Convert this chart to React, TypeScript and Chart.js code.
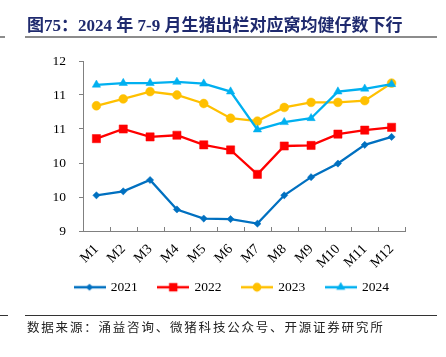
import React, { useEffect, useRef } from "react";
import { Chart, registerables } from "chart.js";

Chart.register(...registerables);

const categories = ["M1", "M2", "M3", "M4", "M5", "M6", "M7", "M8", "M9", "M10", "M11", "M12"];
const seriesNames = ["2021", "2022", "2023", "2024"];
const values2021 = [9.63, 9.7, 9.9, 9.38, 9.22, 9.21, 9.13, 9.63, 9.95, 10.19, 10.52, 10.66];
const values2022 = [10.63, 10.8, 10.66, 10.69, 10.52, 10.43, 10.0, 10.5, 10.51, 10.71, 10.78, 10.83];
const values2023 = [11.21, 11.33, 11.46, 11.4, 11.25, 10.99, 10.94, 11.18, 11.27, 11.27, 11.3, 11.61];
const values2024 = [11.58, 11.61, 11.61, 11.63, 11.6, 11.46, 10.79, 10.92, 10.99, 11.46, 11.51, 11.59];
const yTickValues = [9, 9.6, 10.2, 10.8, 11.4, 12];
const yTickLabels = ["9", "10", "10", "11", "11", "12"];

const colors = ["#0070C0", "#FF0000", "#FFC000", "#00B0F0"];
const pointStyles = ["rectRot", "rect", "circle", "triangle"];
const pointRadii = [3.6, 5.8, 4.4, 4.8];
const axisColor = "#808080";
const serif = "'Liberation Serif', 'Times New Roman', serif";

function makeLegendImage(color: string, style: string): HTMLCanvasElement {
  const c = document.createElement("canvas");
  c.width = 32;
  c.height = 14;
  const ctx = c.getContext("2d")!;
  const cy = 7;
  const cx = 16;
  ctx.strokeStyle = color;
  ctx.lineWidth = 2.5;
  ctx.beginPath();
  ctx.moveTo(0, cy);
  ctx.lineTo(32, cy);
  ctx.stroke();
  ctx.fillStyle = color;
  ctx.beginPath();
  if (style === "rectRot") {
    const r = 3.6;
    ctx.moveTo(cx, cy - r);
    ctx.lineTo(cx + r, cy);
    ctx.lineTo(cx, cy + r);
    ctx.lineTo(cx - r, cy);
    ctx.closePath();
  } else if (style === "rect") {
    ctx.rect(cx - 4.2, cy - 4.2, 8.4, 8.4);
  } else if (style === "circle") {
    ctx.arc(cx, cy, 4.4, 0, Math.PI * 2);
  } else {
    const r = 5.2;
    ctx.moveTo(cx, cy - r);
    ctx.lineTo(cx + r * 0.866, cy + r * 0.5);
    ctx.lineTo(cx - r * 0.866, cy + r * 0.5);
    ctx.closePath();
  }
  ctx.fill();
  return c;
}

const xInnerTicks = {
  id: "xInnerTicks",
  beforeDatasetsDraw(chart: any) {
    const xs = chart.scales.x;
    const ctx = chart.ctx;
    const n = xs.ticks.length;
    ctx.save();
    ctx.strokeStyle = axisColor;
    ctx.lineWidth = 1;
    ctx.beginPath();
    for (let i = 0; i <= n; i++) {
      const x = Math.round(xs.left + (i * xs.width) / n) + 0.5;
      ctx.moveTo(x, xs.top);
      ctx.lineTo(x, xs.top - 4);
    }
    ctx.stroke();
    ctx.restore();
  },
};

const legendShift = {
  id: "legendShift",
  afterLayout(chart: any) {
    const l = chart.legend;
    if (l) {
      l.top -= 9.5;
      l.bottom -= 9.5;
    }
  },
};

export default function App() {
  const ref = useRef<HTMLCanvasElement>(null);

  useEffect(() => {
    const canvas = ref.current!;
    const allValues = [values2021, values2022, values2023, values2024];
    const images = colors.map((c, i) => makeLegendImage(c, pointStyles[i]));
    const chart = new Chart(canvas, {
      type: "line",
      data: {
        labels: categories,
        datasets: allValues.map((vals, i) => ({
          label: seriesNames[i],
          data: vals,
          borderColor: colors[i],
          backgroundColor: colors[i],
          borderWidth: 2.3,
          pointStyle: pointStyles[i] as any,
          pointRadius: pointRadii[i],
          pointBackgroundColor: colors[i],
          pointBorderColor: colors[i],
          pointBorderWidth: 0.5,
          tension: 0,
          fill: false,
          order: 3 - i,
          yAxisID: "y",
        })),
      },
      options: {
        animation: false,
        responsive: false,
        devicePixelRatio: 1,
        layout: { padding: { top: 61, left: 18, right: 0, bottom: 43.5 } },
        plugins: {
          title: { display: false },
          tooltip: { enabled: false },
          legend: {
            display: true,
            position: "bottom",
            labels: {
              usePointStyle: true,
              pointStyleWidth: 29,
              padding: 21,
              color: "#000",
              font: { family: serif, size: 13.5 },
              generateLabels: () =>
                seriesNames.map((name, i) => ({
                  text: name,
                  pointStyle: images[i] as any,
                  fillStyle: colors[i],
                  strokeStyle: colors[i],
                  lineWidth: 0,
                  hidden: false,
                  datasetIndex: i,
                  fontColor: "#000",
                })),
            },
          },
        },
        scales: {
          x: {
            type: "category",
            offset: true,
            grid: { display: false, drawTicks: false },
            border: { display: true, color: axisColor, width: 1 },
            ticks: {
              color: "#000",
              font: { family: serif, size: 14 },
              minRotation: 45,
              maxRotation: 45,
              autoSkip: false,
              padding: 10,
            },
            afterFit: (s: any) => {
              s.height = 38;
            },
          },
          y: {
            type: "linear",
            position: "left",
            min: 9,
            max: 12,
            afterBuildTicks: (s: any) => {
              s.ticks = yTickValues.map((v) => ({ value: v }));
            },
            grid: {
              display: true,
              drawOnChartArea: false,
              drawTicks: true,
              tickLength: 4,
              color: axisColor,
            },
            border: { display: true, color: axisColor, width: 1 },
            ticks: {
              color: "#000",
              font: { family: serif, size: 13.5 },
              padding: 13,
              callback: (_v: any, idx: number) => yTickLabels[idx],
            },
            afterFit: (s: any) => {
              s.width = 65;
            },
          },
          yRight: {
            type: "linear",
            position: "right",
            display: true,
            grid: { display: false, drawTicks: false },
            border: { display: false },
            ticks: { display: false },
            afterFit: (s: any) => {
              s.width = 41;
            },
          },
        },
      },
      plugins: [xInnerTicks, legendShift],
    });
    return () => chart.destroy();
  }, []);

  return (
    <div
      style={{
        position: "absolute",
        left: 0,
        top: 0,
        width: 446,
        height: 357,
        background: "#fff",
        overflow: "hidden",
      }}
    >
      <canvas
        ref={ref}
        width={446}
        height={357}
        style={{ position: "absolute", left: 0, top: 0, width: 446, height: 357 }}
      />
      <div
        style={{
          position: "absolute",
          left: 27,
          top: 16,
          whiteSpace: "nowrap",
          fontFamily: "'Liberation Serif', 'Noto Sans CJK SC', serif",
          fontWeight: "bold",
          fontSize: 17,
          lineHeight: "19px",
          color: "#1F2A6E",
        }}
      >
        图75：2024 年 7-9 月生猪出栏对应窝均健仔数下行
      </div>
      <div style={{ position: "absolute", left: 0, top: 36, width: 5, height: 2, background: "#8c8c8c" }} />
      <div style={{ position: "absolute", left: 25, top: 36, width: 412, height: 2, background: "#8c8c8c" }} />
      <div style={{ position: "absolute", left: 0, top: 315, width: 8, height: 1, background: "#333" }} />
      <div style={{ position: "absolute", left: 25, top: 315, width: 412, height: 1, background: "#333" }} />
      <div
        style={{
          position: "absolute",
          left: 27,
          top: 319,
          whiteSpace: "nowrap",
          fontFamily: "'Noto Sans CJK SC', sans-serif",
          fontSize: 12.5,
          letterSpacing: 1.8,
          lineHeight: "16px",
          color: "#222",
        }}
      >
        数据来源：涌益咨询、微猪科技公众号、开源证券研究所
      </div>
    </div>
  );
}
